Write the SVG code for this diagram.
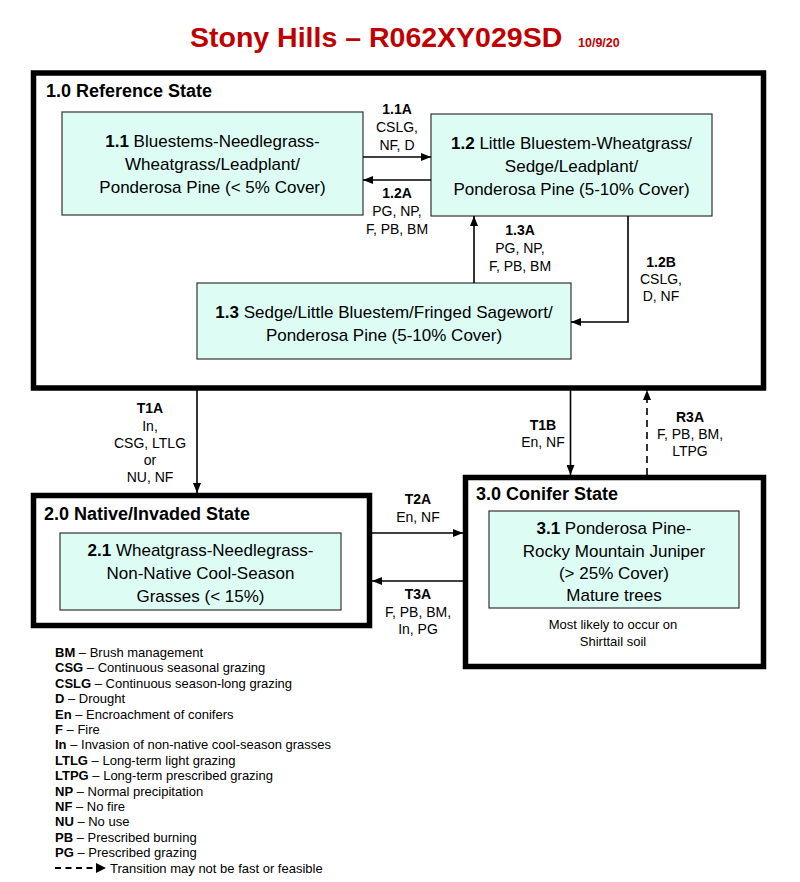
<svg xmlns="http://www.w3.org/2000/svg" width="800" height="882" viewBox="0 0 800 882">
<defs>
<style>
text{font-family:"Liberation Sans",Arial,sans-serif;fill:#000}
.title{font-size:28.5px;font-weight:bold;fill:#c00000}
.date{font-size:12.5px;font-weight:bold;fill:#c00000}
.state{fill:none;stroke:#000;stroke-width:5.5}
.hdr{font-size:18px;font-weight:bold}
.phase{fill:#dcfcf4;stroke:#333;stroke-width:1.2}
.pt{font-size:17px;text-anchor:middle}
.lab{font-size:14px;text-anchor:middle}
.note{font-size:13px;text-anchor:middle}
.leg{font-size:13px}
.b{font-weight:bold}
.arr{fill:none;stroke:#000;stroke-width:1.6;marker-end:url(#ah)}
.dash{stroke-dasharray:7,5}
</style>
<marker id="ah" viewBox="0 0 10 8" refX="10" refY="4" markerWidth="10" markerHeight="8" markerUnits="userSpaceOnUse" orient="auto">
<path d="M0,0 L10,4 L0,8 Z" fill="#000"/>
</marker>
</defs>
<rect width="800" height="882" fill="#fff"/>
<g id="title">
<text class="title" x="190" y="47">Stony Hills – R062XY029SD</text>
<text class="date" x="578" y="47">10/9/20</text>
</g>
<g id="state1">
<rect class="state" x="33.5" y="73" width="730" height="315"/>
<text class="hdr" x="46" y="97">1.0 Reference State</text>
</g>
<g id="p11">
<rect class="phase" x="62" y="112" width="301" height="103"/>
<text class="pt" x="212.5" y="147"><tspan class="b">1.1</tspan> Bluestems-Needlegrass-</text>
<text class="pt" x="212.5" y="170">Wheatgrass/Leadplant/</text>
<text class="pt" x="212.5" y="193">Ponderosa Pine (&lt; 5% Cover)</text>
</g>
<g id="p12">
<rect class="phase" x="431" y="114" width="281" height="102"/>
<text class="pt" x="571.5" y="149"><tspan class="b">1.2</tspan> Little Bluestem-Wheatgrass/</text>
<text class="pt" x="571.5" y="172">Sedge/Leadplant/</text>
<text class="pt" x="571.5" y="195">Ponderosa Pine (5-10% Cover)</text>
</g>
<g id="p13">
<rect class="phase" x="197" y="283" width="374" height="76"/>
<text class="pt" x="384" y="318"><tspan class="b">1.3</tspan> Sedge/Little Bluestem/Fringed Sagewort/</text>
<text class="pt" x="384" y="341">Ponderosa Pine (5-10% Cover)</text>
</g>
<g id="state2">
<rect class="state" x="33.5" y="495.5" width="336" height="130"/>
<text class="hdr" x="44" y="520">2.0 Native/Invaded State</text>
</g>
<g id="p21">
<rect class="phase" x="60" y="533" width="281" height="77"/>
<text class="pt" x="200.5" y="556"><tspan class="b">2.1</tspan> Wheatgrass-Needlegrass-</text>
<text class="pt" x="200.5" y="579">Non-Native Cool-Season</text>
<text class="pt" x="200.5" y="602">Grasses (&lt; 15%)</text>
</g>
<g id="state3">
<rect class="state" x="465.5" y="477.5" width="298" height="189"/>
<text class="hdr" x="476" y="500">3.0 Conifer State</text>
<text class="note" x="613" y="629">Most likely to occur on</text>
<text class="note" x="613" y="646">Shirttail soil</text>
</g>
<g id="p31">
<rect class="phase" x="489" y="511" width="250" height="97"/>
<text class="pt" x="614" y="534"><tspan class="b">3.1</tspan> Ponderosa Pine-</text>
<text class="pt" x="614" y="557">Rocky Mountain Juniper</text>
<text class="pt" x="614" y="579">(&gt; 25% Cover)</text>
<text class="pt" x="614" y="601">Mature trees</text>
</g>
<g id="connectors">
<path class="arr" d="M363,157 H431"/>
<path class="arr" d="M431,180 H363"/>
<path class="arr" d="M474,283 V216"/>
<path class="arr" d="M628,216 V322 H571"/>
<path class="arr" d="M197,390 V493"/>
<path class="arr" d="M570.5,390 V475"/>
<path class="arr dash" d="M647,475 V390"/>
<path class="arr" d="M372,533 H463"/>
<path class="arr" d="M463,581 H372"/>
</g>
<g id="labels">
<text class="lab" x="397" y="114"><tspan class="b">1.1A</tspan></text>
<text class="lab" x="397" y="132">CSLG,</text>
<text class="lab" x="397" y="150">NF, D</text>
<text class="lab" x="397" y="198"><tspan class="b">1.2A</tspan></text>
<text class="lab" x="397" y="216">PG, NP,</text>
<text class="lab" x="397" y="234">F, PB, BM</text>
<text class="lab" x="520" y="235"><tspan class="b">1.3A</tspan></text>
<text class="lab" x="520" y="253">PG, NP,</text>
<text class="lab" x="520" y="271">F, PB, BM</text>
<text class="lab" x="661" y="267"><tspan class="b">1.2B</tspan></text>
<text class="lab" x="661" y="284">CSLG,</text>
<text class="lab" x="661" y="301">D, NF</text>
<text class="lab" x="150" y="413"><tspan class="b">T1A</tspan></text>
<text class="lab" x="150" y="431">In,</text>
<text class="lab" x="150" y="448">CSG, LTLG</text>
<text class="lab" x="150" y="465">or</text>
<text class="lab" x="150" y="482">NU, NF</text>
<text class="lab" x="543" y="430"><tspan class="b">T1B</tspan></text>
<text class="lab" x="543" y="447">En, NF</text>
<text class="lab" x="690" y="422"><tspan class="b">R3A</tspan></text>
<text class="lab" x="690" y="439">F, PB, BM,</text>
<text class="lab" x="690" y="456">LTPG</text>
<text class="lab" x="418" y="504"><tspan class="b">T2A</tspan></text>
<text class="lab" x="418" y="522">En, NF</text>
<text class="lab" x="418" y="599"><tspan class="b">T3A</tspan></text>
<text class="lab" x="418" y="617">F, PB, BM,</text>
<text class="lab" x="418" y="634">In, PG</text>
</g>
<g id="legend">
<text class="leg" x="55" y="657"><tspan class="b">BM</tspan> – Brush management</text>
<text class="leg" x="55" y="672.4"><tspan class="b">CSG</tspan> – Continuous seasonal grazing</text>
<text class="leg" x="55" y="687.8"><tspan class="b">CSLG</tspan> – Continuous season-long grazing</text>
<text class="leg" x="55" y="703.2"><tspan class="b">D</tspan> – Drought</text>
<text class="leg" x="55" y="718.6"><tspan class="b">En</tspan> – Encroachment of conifers</text>
<text class="leg" x="55" y="734"><tspan class="b">F</tspan> – Fire</text>
<text class="leg" x="55" y="749.4"><tspan class="b">In</tspan> – Invasion of non-native cool-season grasses</text>
<text class="leg" x="55" y="764.8"><tspan class="b">LTLG</tspan> – Long-term light grazing</text>
<text class="leg" x="55" y="780.2"><tspan class="b">LTPG</tspan> – Long-term prescribed grazing</text>
<text class="leg" x="55" y="795.6"><tspan class="b">NP</tspan> – Normal precipitation</text>
<text class="leg" x="55" y="811"><tspan class="b">NF</tspan> – No fire</text>
<text class="leg" x="55" y="826.4"><tspan class="b">NU</tspan> – No use</text>
<text class="leg" x="55" y="841.8"><tspan class="b">PB</tspan> – Prescribed burning</text>
<text class="leg" x="55" y="857.2"><tspan class="b">PG</tspan> – Prescribed grazing</text>
<path d="M55,868 H98" stroke="#000" stroke-width="2" stroke-dasharray="6,4.5" fill="none"/>
<path d="M96,863 L106,868 L96,873 Z" fill="#000"/>
<text class="leg" x="110" y="872.6">Transition may not be fast or feasible</text>
</g>
</svg>
